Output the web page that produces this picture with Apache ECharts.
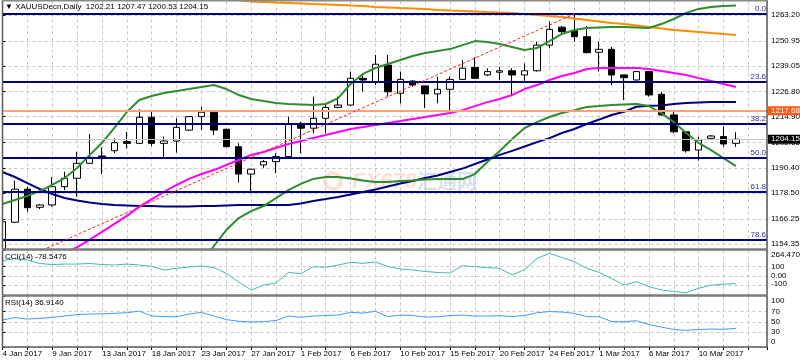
<!DOCTYPE html>
<html><head><meta charset="utf-8">
<script src="https://cdn.jsdelivr.net/npm/echarts@6/dist/echarts.min.js"></script>
<style>html,body{margin:0;padding:0;background:#fff}#c{width:800px;height:363px}</style>
</head><body><div id="c"></div>
<script>
// ---------- DATA ----------
const dates = ['4 Jan 2017','5 Jan 2017','6 Jan 2017','8 Jan 2017','9 Jan 2017','10 Jan 2017','11 Jan 2017','12 Jan 2017','13 Jan 2017','15 Jan 2017',
 '16 Jan 2017','17 Jan 2017','18 Jan 2017','19 Jan 2017','20 Jan 2017','22 Jan 2017','23 Jan 2017','24 Jan 2017','25 Jan 2017','26 Jan 2017',
 '27 Jan 2017','29 Jan 2017','30 Jan 2017','31 Jan 2017','1 Feb 2017','2 Feb 2017','3 Feb 2017','5 Feb 2017','6 Feb 2017','7 Feb 2017',
 '8 Feb 2017','9 Feb 2017','10 Feb 2017','12 Feb 2017','13 Feb 2017','14 Feb 2017','15 Feb 2017','16 Feb 2017','17 Feb 2017','19 Feb 2017',
 '20 Feb 2017','21 Feb 2017','22 Feb 2017','23 Feb 2017','24 Feb 2017','26 Feb 2017','27 Feb 2017','28 Feb 2017','1 Mar 2017','2 Mar 2017',
 '3 Mar 2017','5 Mar 2017','6 Mar 2017','7 Mar 2017','8 Mar 2017','9 Mar 2017','10 Mar 2017','12 Mar 2017','13 Mar 2017','14 Mar 2017'];

const opens  = [1152.0,1164.7,1180.4,1171.8,1172.9,1181.6,1185.6,1192.7,1196.2,1198.7,
 1203.0,1202.2,1214.6,1202.2,1203.3,1208.5,1214.9,1217.0,1208.9,1200.6,
 1187.6,1191.9,1193.5,1195.9,1210.9,1209.4,1214.1,1219.3,1220.4,1233.1,
 1231.5,1239.4,1226.0,1231.8,1229.5,1225.7,1227.9,1232.6,1238.2,1234.7,
 1236.0,1236.7,1234.7,1236.7,1248.9,1257.4,1255.7,1252.9,1245.5,1246.9,
 1234.7,1232.3,1236.3,1225.5,1215.7,1207.7,1199.0,1204.6,1205.4,1202.21];
const highs  = [1166.5,1184.5,1181.6,1173.4,1186.1,1188.7,1198.2,1206.6,1200.3,1204.6,
 1207.7,1218.4,1217.2,1205.4,1214.1,1215.2,1219.6,1218.1,1209.0,1202.2,
 1190.0,1194.3,1197.5,1214.9,1212.5,1224.4,1221.2,1224.4,1236.3,1235.5,
 1244.2,1244.2,1236.3,1232.3,1229.6,1233.9,1233.9,1241.8,1243.1,1237.9,
 1238.6,1237.9,1240.2,1250.5,1260.0,1258.0,1263.8,1258.0,1250.5,1248.1,
 1234.8,1236.4,1236.4,1226.7,1218.1,1207.9,1205.4,1206.2,1210.4,1207.47];
const lows   = [1150.0,1164.3,1169.7,1170.9,1172.1,1180.0,1176.8,1192.4,1187.6,1197.5,
 1199.8,1202.0,1200.9,1195.1,1197.8,1208.2,1208.5,1206.2,1200.4,1183.5,
 1179.2,1190.5,1188.0,1195.7,1197.5,1207.0,1207.0,1218.9,1220.0,1226.8,
 1229.9,1224.4,1221.2,1229.1,1218.9,1221.2,1217.2,1232.3,1233.0,1234.2,
 1232.3,1225.2,1231.5,1236.3,1247.4,1254.7,1250.5,1245.1,1236.3,1229.9,
 1222.8,1232.2,1224.4,1215.4,1207.0,1197.8,1194.0,1204.1,1200.6,1200.53];
const closes = [1165.0,1180.4,1171.6,1172.9,1181.6,1185.6,1192.7,1195.6,1195.7,1202.5,
 1202.2,1214.6,1202.2,1203.3,1209.8,1214.9,1217.0,1208.5,1200.6,1187.6,
 1189.9,1193.5,1195.9,1211.4,1209.4,1214.1,1219.3,1220.4,1233.1,1232.3,
 1239.8,1226.7,1232.6,1229.9,1225.7,1227.9,1232.6,1237.9,1233.1,1236.3,
 1236.7,1234.7,1236.7,1248.9,1256.4,1255.3,1252.9,1245.3,1246.9,1234.7,
 1233.4,1236.3,1225.2,1215.7,1207.7,1198.7,1203.8,1205.7,1201.9,1204.15];

// Bollinger bands (green)
const bbUpper = [1173.4,1175.3,1177.2,1179.5,1182.4,1185.7,1190.5,1196.6,1202.4,1209.5,
 1217.1,1222.8,1224.7,1226.1,1227.1,1228.0,1229.0,1229.9,1228.0,1225.2,
 1223.3,1222.3,1221.4,1220.9,1220.7,1220.4,1220.9,1223.7,1230.4,1235.2,
 1238.0,1239.9,1241.8,1243.7,1245.1,1246.1,1247.0,1248.9,1250.8,1250.4,
 1249.4,1248.0,1246.6,1247.5,1250.8,1254.2,1256.1,1257.0,1257.3,1257.5,
 1257.5,1257.3,1257.0,1258.9,1261.3,1264.2,1266.1,1267.0,1267.5,1267.7];
const bbLower = [null,null,null,null,null,null,null,null,null,null,
 null,null,null,null,null,null,1144.4,1153.4,1161.0,1166.7,
 1170.0,1172.4,1176.2,1180.0,1182.9,1185.3,1186.2,1186.2,1185.5,1184.5,
 1183.8,1183.8,1184.3,1184.5,1185.0,1185.2,1185.2,1185.2,1187.6,1193.3,
 1198.6,1204.3,1209.5,1212.3,1214.7,1216.6,1218.0,1219.5,1219.9,1220.4,
 1220.7,1220.9,1219.9,1216.6,1212.3,1207.1,1202.4,1199.0,1195.2,1191.4];
// moving averages
const maMagenta = [null,null,null,null,null,1150.1,1152.9,1156.3,1160.1,1163.9,
 1167.7,1172.0,1175.7,1179.1,1182.4,1185.3,1187.6,1189.5,1191.9,1194.3,
 1196.7,1198.1,1200.0,1201.9,1203.3,1204.7,1206.2,1207.6,1209.0,1210.0,
 1210.9,1211.9,1212.8,1213.8,1214.7,1215.7,1216.6,1218.0,1219.9,1221.8,
 1223.3,1225.2,1228.0,1229.9,1232.3,1234.2,1235.6,1237.5,1238.0,1238.0,
 1238.0,1238.0,1237.5,1236.6,1235.6,1234.7,1233.2,1231.8,1230.4,1229.0];
const maNavy = [1188.6,1186.2,1183.3,1180.5,1178.1,1176.2,1175.0,1174.1,1173.4,1172.9,
 1172.7,1172.4,1172.4,1172.2,1172.2,1172.2,1172.4,1172.4,1172.7,1172.9,
 1172.9,1172.9,1172.9,1172.9,1173.6,1174.8,1175.7,1176.7,1177.9,1179.1,
 1180.3,1181.7,1183.1,1184.3,1185.7,1186.9,1188.6,1190.2,1192.4,1194.5,
 1196.7,1198.6,1200.7,1202.8,1204.7,1207.1,1209.0,1211.4,1213.5,1215.7,
 1217.2,1219.6,1220.1,1220.2,1220.9,1221.4,1221.6,1221.8,1221.8,1221.8];
const maOrange = [null,null,null,null,null,null,null,null,null,null,
 null,null,null,null,null,null,null,null,1271.0,1270.2,
 1269.6,1269.4,1269.1,1268.9,1268.7,1268.4,1268.2,1268.0,1267.7,1267.5,
 1267.0,1266.8,1266.5,1266.3,1266.1,1265.6,1265.3,1265.1,1264.9,1264.6,
 1264.4,1264.2,1263.7,1263.2,1262.7,1262.3,1261.5,1260.8,1260.1,1259.4,
 1258.9,1258.2,1257.5,1256.8,1256.1,1255.6,1255.1,1254.6,1254.2,1253.7];

const cci = [161,178,166,130,119,124,124,130,119,114,
 124,114,99,62,80,93,104,88,28,-62,
 -145,-95,-72,38,24,97,90,114,142,132,
 145,99,73,62,47,37,31,107,97,88,
 80,11,67,182,235,192,150,80,37,-26,
 -93,-59,-109,-145,-160,-173,-127,-96,-85,-78.5476];
const rsi = [53.4,58.3,55.3,56.7,58.7,61.3,64.2,65.2,65.6,66.8,
 67.8,71.1,61.3,60.3,59.9,65.2,68.6,61.3,54.3,51.0,
 49.4,50.4,52.4,61.3,58.7,61.3,62.3,63.2,68.6,67.2,
 70.6,60.3,63.2,62.3,59.3,59.9,62.3,63.2,61.3,61.3,
 61.9,60.3,62.3,67.8,70.2,69.2,66.6,60.3,59.9,50.4,
 50.0,52.0,44.5,39.5,34.6,33.0,34.6,35.6,35.0,36.914];

// Fibonacci object (low anchor off-screen, high anchor at 27 Feb)
const fibLow = 1127.3, fibHigh = 1263.7;
const fibAnchors = [[-6, 1127.3], [46, 1263.7]];
const fibRatios = [0, 0.236, 0.382, 0.5, 0.618, 0.786, 1];
const fibLabels = ['0.0','23.6','38.2','50.0','61.8','78.6','100.0'];
const levelLine = 1217.68;
const lastPrice = 1204.15;
const header = {symbol:'XAUUSDecn,Daily', ohlc:[1202.21,1207.47,1200.53,1204.15]};
const cciLabel = 'CCI(14) -78.5476', rsiLabel = 'RSI(14) 36.9140';

const priceTicks = [1154.35,1166.25,1178.50,1190.40,1202.65,1214.90,1226.80,1239.05,1250.95,1263.20];
const cciTicks = [-196.7331,-100,0,100,264.4704];
const cciTickText = ['-196.7331','-100','0.00','100','264.4704'];
const rsiTicks = [0,30,50,70,100];

// ---------- CHART ----------
const FONT = "'Liberation Sans Narrow','Liberation Sans',Arial,sans-serif";
const FS = 8;
const YMIN = 1152.31, YMAX = 1269.62;
const XMAX = 61.5;
const gridDash = {color:'#c6c6c6', width:1, type:[3,3]};
const xy = arr => arr.map((v,i)=> v==null?null:[i,v]).filter(Boolean);
const lbl = {fontFamily:FONT, fontSize:FS, color:'#000'};

function xAx(g, bottom){
  return {type:'value', gridIndex:g, min:0, max:XMAX, interval:2,
    axisLine:{show:false},
    axisTick:{show:bottom, length:3, lineStyle:{color:'#000'}},
    axisLabel:{show:bottom, ...lbl, margin:3, align:'left',
      formatter:v => (Number.isInteger(v) && v%4===0 && dates[v]) ? dates[v] : ''},
    splitLine:{show:true, lineStyle:gridDash}};
}

const fibLevels = fibRatios.map((r,i)=>({v: fibHigh - r*(fibHigh-fibLow), t: fibLabels[i]}))
  .filter(o => o.v >= YMIN && o.v <= YMAX);

const lineS = (data, color, w, extra) => Object.assign({
  type:'line', xAxisIndex:0, yAxisIndex:0, data:xy(data), symbol:'none', showSymbol:false,
  lineStyle:{color, width:w}, silent:true, z:4, clip:true}, extra||{});

const option = {
  animation:false,
  backgroundColor:'#fff',
  grid:[
    {left:2.515, right:33, top:1.5, height:246.8, outerBoundsMode:'none'},
    {left:2.515, right:33, top:250.5, height:44.5, outerBoundsMode:'none'},
    {left:2.515, right:33, top:296.5, height:50.5, outerBoundsMode:'none'}
  ],
  xAxis:[xAx(0,false), xAx(1,false), xAx(2,true)],
  yAxis:[
    {type:'value', gridIndex:0, position:'right', min:YMIN, max:YMAX,
     axisLine:{show:false},
     axisTick:{show:true, length:3, customValues:priceTicks, lineStyle:{color:'#000'}},
     axisLabel:{...lbl, margin:4, customValues:priceTicks, formatter:v=>v.toFixed(2)},
     splitLine:{show:true, lineStyle:gridDash}},
    {type:'value', gridIndex:1, position:'right', min:cciTicks[0], max:cciTicks[4],
     axisLine:{show:false},
     axisTick:{show:true, length:3, customValues:cciTicks, lineStyle:{color:'#000'}},
     axisLabel:{...lbl, margin:4, customValues:cciTicks,
       formatter:v=>{const i=cciTicks.findIndex(t=>Math.abs(t-v)<1e-6); const t=cciTickText[i];
         if(i===4) return '{dn|'+t+'}'; if(i===0) return '{up|'+t+'}'; if(i===1) return '{up2|'+t+'}'; return t;},
       rich:{dn:{...lbl,padding:[9,0,0,0]}, up:{...lbl,padding:[0,0,11,0]}, up2:{...lbl,padding:[0,0,3,0]}}},
     splitLine:{show:true, lineStyle:gridDash}},
    {type:'value', gridIndex:2, position:'right', min:0, max:100,
     axisLine:{show:false},
     axisTick:{show:true, length:3, customValues:rsiTicks, lineStyle:{color:'#000'}},
     axisLabel:{...lbl, margin:4, customValues:rsiTicks,
       formatter:v=> v===100 ? '{dn|100}' : (v===0 ? '{up|0}' : String(v)),
       rich:{dn:{...lbl,padding:[9,0,0,0]}, up:{...lbl,padding:[0,0,10,0]}}},
     splitLine:{show:true, lineStyle:gridDash}}
  ],
  series:[
    {type:'candlestick', xAxisIndex:0, yAxisIndex:0, z:2, silent:true,
     dimensions:['idx','open','close','lowest','highest'],
     encode:{x:'idx', y:['open','close','lowest','highest']},
     data: opens.map((o,i)=>[i,o,closes[i],lows[i],highs[i]]),
     barWidth:7,
     itemStyle:{color:'#ffffff', color0:'#000000', borderColor:'#000000', borderColor0:'#000000', borderWidth:1}},
    lineS(maOrange,'#ff8c00',2),
    lineS(maNavy,'#000080',2),
    lineS(maMagenta,'#ff00ff',2),
    lineS(bbUpper,'#2e8b2e',2),
    lineS(bbLower,'#2e8b2e',2),
    {type:'line', xAxisIndex:0, yAxisIndex:0, data:fibAnchors, symbol:'none', silent:true, z:5, clip:true,
     lineStyle:{color:'#ff2020', width:1, type:[3,2]},
     markLine:{silent:true, symbol:['none','none'], animation:false,
       lineStyle:{color:'#000080', width:2, type:'solid'},
       label:{show:true, position:'insideEndTop', distance:1, color:'#2b2ba0', fontFamily:FONT, fontSize:FS},
       data: fibLevels.map(o=>({yAxis:o.v, label:{formatter:o.t}}))}},
    {type:'line', xAxisIndex:0, yAxisIndex:0, data:[], symbol:'none', silent:true, z:6,
     markLine:{silent:true, symbol:['none','none'], animation:false,
       data:[
        {yAxis:lastPrice, lineStyle:{color:'#c8c8c8', width:1, type:'solid'},
         label:{show:true, position:'end', distance:1, formatter:lastPrice.toFixed(2), color:'#fff',
                backgroundColor:'#000', padding:[1,3,0,3], fontFamily:FONT, fontSize:FS}},
        {yAxis:levelLine, lineStyle:{color:'#ffa07a', width:2, type:'solid'},
         label:{show:true, position:'end', distance:1, formatter:levelLine.toFixed(2), color:'#fff',
                backgroundColor:'#ff5a1a', padding:[1,3,0,3], fontFamily:FONT, fontSize:FS}}
       ]}},
    {type:'line', xAxisIndex:1, yAxisIndex:1, data:xy(cci), symbol:'none', silent:true,
     lineStyle:{color:'#3cbcb4', width:1}},
    {type:'line', xAxisIndex:2, yAxisIndex:2, data:xy(rsi), symbol:'none', silent:true,
     lineStyle:{color:'#3a9cff', width:1}}
  ],
  graphic:[
    // faint watermark
    {type:'circle', z:0, silent:true, shape:{cx:333, cy:181, r:8}, style:{fill:'none', stroke:'rgba(240,150,100,0.28)', lineWidth:4}},
    {type:'text', z:0, silent:true, left:352, top:171, style:{text:'FX678', font:'italic bold 22px Arial', fill:'rgba(245,150,100,0.28)'}},
    {type:'text', z:0, silent:true, left:417, top:171, style:{text:'汇通网', font:"bold 20px 'Noto Sans CJK SC'", fill:'rgba(110,140,210,0.28)'}},
    // frame
    {type:'rect', z:100, silent:true, shape:{x:0, y:0, width:2, height:350}, style:{fill:'#fff'}},
    {type:'line', z:101, silent:true, shape:{x1:2.5, y1:0, x2:2.5, y2:347.5}, style:{stroke:'#5a5a5a', lineWidth:1.5}},
    {type:'line', z:101, silent:true, shape:{x1:767, y1:0, x2:767, y2:347.5}, style:{stroke:'#5a5a5a', lineWidth:1.5}},
    {type:'line', z:101, silent:true, shape:{x1:2, y1:0.75, x2:767, y2:0.75}, style:{stroke:'#8a8a8a', lineWidth:1.5}},
    {type:'line', z:101, silent:true, shape:{x1:2, y1:347, x2:767.5, y2:347}, style:{stroke:'#5a5a5a', lineWidth:1.5}},
    {type:'line', z:101, silent:true, shape:{x1:2, y1:249.5, x2:767.5, y2:249.5}, style:{stroke:'#7c7c7c', lineWidth:2.5}},
    {type:'line', z:101, silent:true, shape:{x1:2, y1:295.5, x2:767.5, y2:295.5}, style:{stroke:'#7c7c7c', lineWidth:2.5}},
    // header & indicator titles
    {type:'text', z:102, silent:true, left:5, top:3,
     style:{text:'\u25BC ' + header.symbol + '  ' + header.ohlc.map(v=>v.toFixed(2)).join(' '), font:FS+'px '+FONT, fill:'#000'}},
    {type:'text', z:102, silent:true, left:5, top:253, style:{text:cciLabel, font:FS+'px '+FONT, fill:'#000'}},
    {type:'text', z:102, silent:true, left:5, top:299, style:{text:rsiLabel, font:FS+'px '+FONT, fill:'#000'}}
  ]
};
const chart = echarts.init(document.getElementById('c'), null, {renderer:'canvas'});
chart.setOption(option);
</script>
</body></html>
